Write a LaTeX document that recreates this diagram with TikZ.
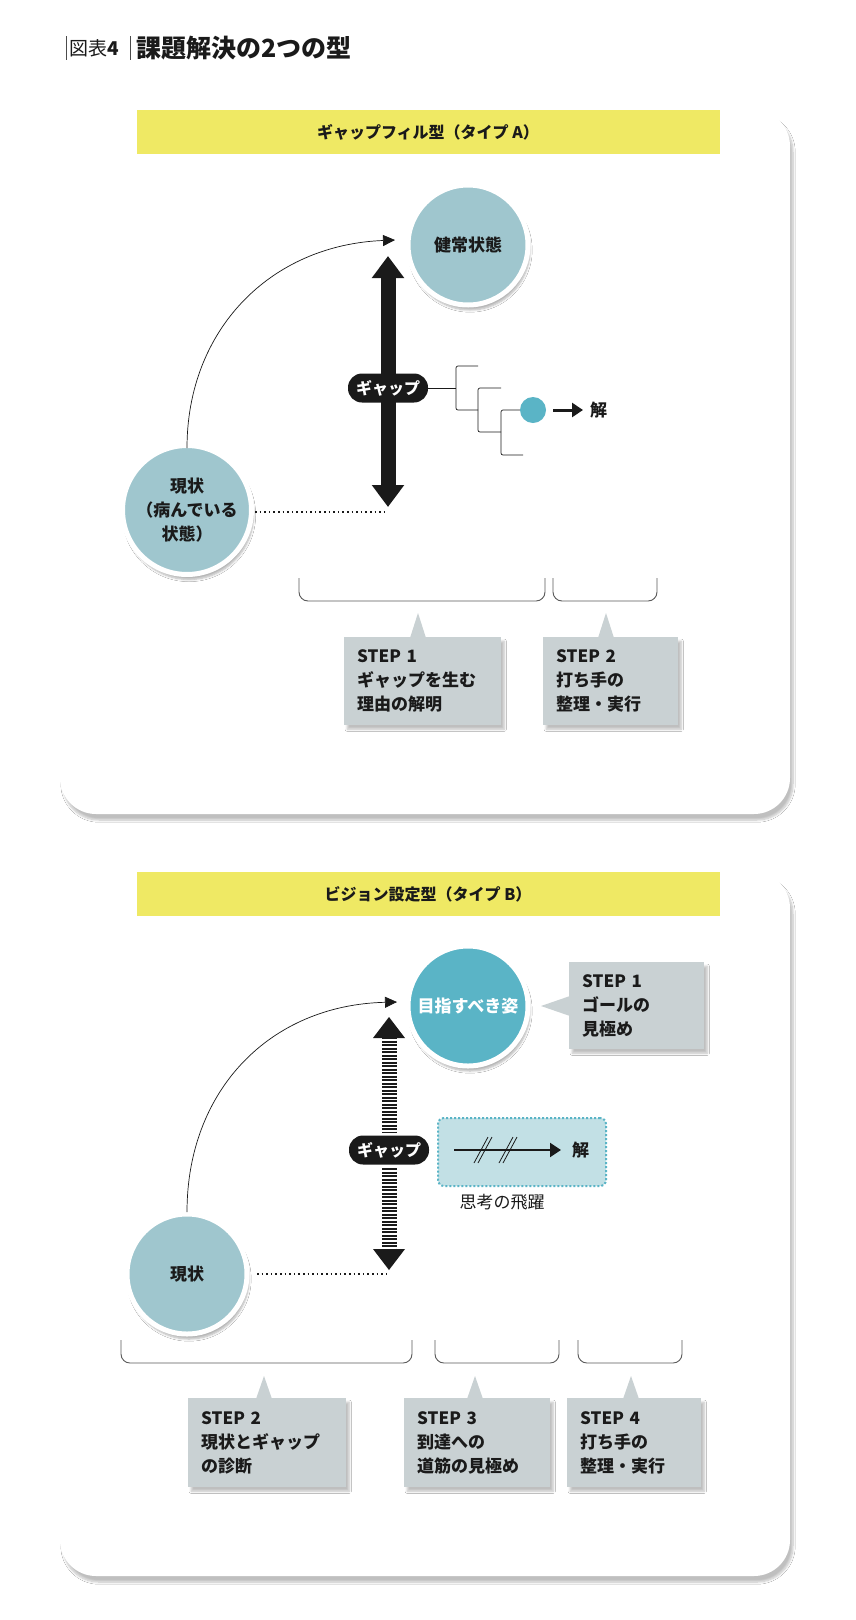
\documentclass[tikz,border=0pt]{standalone}
\usepackage{fontspec}
\setmainfont{Noto Sans CJK JP}
\usetikzlibrary{arrows.meta,shadows.blur,calc}
\definecolor{cLight}{HTML}{9FC6CE}
\definecolor{cTeal}{HTML}{5AB4C6}
\definecolor{cBox}{HTML}{C9D1D3}
\definecolor{cYel}{HTML}{EFE964}
\definecolor{cDot}{HTML}{C2E0E5}
\definecolor{cInk}{HTML}{1A1A1A}
\tikzset{
  panel/.style={fill=white,rounded corners=36pt,blur shadow={shadow xshift=3pt,shadow yshift=-6pt,shadow blur steps=8,shadow opacity=25}},
  ybar/.style={fill=cYel,draw=none},
  ytext/.style={font=\fontsize{16}{18}\selectfont\bfseries,text=cInk},
  circ/.style={circle,minimum size=120pt,draw=white,line width=5pt,font=\fontsize{17}{22}\selectfont\bfseries,text=cInk,align=center,blur shadow={shadow xshift=2pt,shadow yshift=-5pt,shadow blur steps=6,shadow opacity=30}},
  pill/.style={rounded corners=14pt,fill=cInk,text=white,minimum width=80pt,minimum height=29pt,inner sep=0pt,font=\fontsize{16}{18}\selectfont\bfseries},
  stepbox/.style={anchor=north west,fill=cBox,align=left,inner xsep=13pt,inner ysep=0pt,font=\fontsize{17}{24}\selectfont\bfseries,text=cInk,blur shadow={shadow xshift=3pt,shadow yshift=-4pt,shadow blur steps=6,shadow opacity=25}},
  ptr/.style={fill=cBox},
  brk/.style={draw=black!65,line width=0.9pt,rounded corners=9pt},
  thin/.style={draw=cInk,line width=0.7pt},
  dotl/.style={draw=cInk,line width=2pt,dash pattern=on 1.6pt off 3pt},
  bigarr/.style={draw=cInk,line width=15pt,{Triangle[width=31pt,length=22pt]}-{Triangle[width=31pt,length=22pt]}},
  smallarr/.style={-{Triangle[width=11pt,length=12pt]},cInk},
  lbl/.style={font=\fontsize{17}{20}\selectfont\bfseries,text=cInk},
}
\begin{document}
\begin{tikzpicture}[x=1pt,y=-1pt]
\useasboundingbox[fill=white] (0,0) rectangle (856,1620);
% title
\draw[black!70,line width=0.6pt] (66,36) -- (66,60) (130,36) -- (130,60);
\node[anchor=west,inner sep=0pt,font=\fontsize{19}{20}\selectfont,text=cInk] (tnum) at (69,48) {図表\textbf{4}};
\node[anchor=west,inner sep=0pt,font=\fontsize{25}{28}\selectfont\bfseries,text=cInk] (ttl) at (136,48) {課題解決の2つの型};

% ===== Panel A
\path[panel] (60,110) rectangle (790,814);
\fill[ybar] (137,110) rectangle (720,154);
\node[ytext] (ya) at (428,132) {ギャップフィル型（タイプ A）};
\node[circ,fill=cLight] (goalA) at (468,245) {健常状態};
\node[circ,fill=cLight,font=\fontsize{17}{24}\selectfont\bfseries] (curA) at (187,510) {現状\\（病んでいる\\状態）};
\coordinate (cA0) at (187,448);
\coordinate (cA1) at (395,240);
\draw[thin,smallarr] (cA0) .. controls (187,330) and (270,245) .. (cA1);
\coordinate (gAt) at (388,256);
\coordinate (gAb) at (388,507);
\draw[bigarr] (gAt) -- (gAb);
\coordinate (dA) at (255,512);
\draw[dotl] (dA) -- (388,512);
\node[pill] (pA) at (388,388) {ギャップ};
% tree
\coordinate (t1) at (456,388);
\draw[thin] (pA.east) -- (t1);
\draw[thin,rounded corners=2pt] (478,366) -- (456,366) -- (456,410) -- (478,410);
\draw[thin,rounded corners=2pt] (501,388) -- (478,388) -- (478,432) -- (501,432);
\node[circle,fill=cTeal,minimum size=26pt,inner sep=0pt] (dotA) at (533,410) {};
\draw[thin,rounded corners=2pt] (dotA.west) -- (501,410) -- (501,455) -- (523,455);
\node[lbl,anchor=west,inner sep=0pt] (solA) at (590,410) {解};
\coordinate (aA) at (553,410);
\draw[line width=3pt,cInk,-{Triangle[width=14pt,length=11pt]}] (aA) -- (583,410);
% brackets
\draw[brk] (299,578) -- (299,601) -- (545,601) -- (545,578);
\draw[brk] (553,578) -- (553,601) -- (657,601) -- (657,578);
% step boxes
\node[stepbox,text width=131pt,minimum height=88pt] (s1a) at (344,637) {STEP 1\\ギャップを生む\\理由の解明};
\node[stepbox,text width=109pt,minimum height=88pt] (s2a) at (543,637) {STEP 2\\打ち手の\\整理・実行};
\fill[ptr] (410,638) -- (418,613) -- (426,638) -- cycle;
\fill[ptr] (598,638) -- (606,613) -- (614,638) -- cycle;

% ===== Panel B
\path[panel] (60,872) rectangle (790,1576);
\fill[ybar] (137,872) rectangle (720,916);
\node[ytext] (yb) at (428,894) {ビジョン設定型（タイプ B）};
\node[circ,fill=cTeal,text=white] (goalB) at (468,1006) {目指すべき姿};
\node[circ,fill=cLight] (curB) at (187,1274) {現状};
\coordinate (cB0) at (187,1212);
\coordinate (cB1) at (397,1002);
\draw[thin,smallarr] (cB0) .. controls (187,1090) and (270,1005) .. (cB1);
% striped gap arrow
\draw[cInk,line width=15pt,dash pattern=on 2.2pt off 1.3pt] (389,1037) -- (389,1133);
\draw[cInk,line width=15pt,dash pattern=on 2.2pt off 1.3pt] (389,1168) -- (389,1250);
\fill[cInk] (373,1038) -- (389,1017) -- (405,1038) -- cycle;
\fill[cInk] (373,1249) -- (389,1270) -- (405,1249) -- cycle;
\node[pill] (pB) at (389,1150) {ギャップ};
\coordinate (dB) at (257,1274);
\draw[dotl] (dB) -- (390,1274);
% leap box
\node[draw=cTeal,fill=cDot,line width=2pt,dash pattern=on 2pt off 2pt,rounded corners=6pt,minimum width=168pt,minimum height=68pt,anchor=north west] (leap) at (437,1117) {};
\coordinate (lA) at (454,1150);
\draw[line width=2.2pt,cInk,-{Triangle[width=14pt,length=11pt]}] (lA) -- (561,1150);
\foreach \xx in {480,505}{
  \draw[cInk,line width=0.8pt] (\xx-6,1163) -- (\xx+8,1137);
  \draw[cInk,line width=0.8pt] (\xx-2,1163) -- (\xx+12,1137);
}
\node[lbl,anchor=west,inner sep=0pt] (solB) at (572,1150) {解};
\node[font=\fontsize{17}{20}\selectfont,text=cInk] (leapl) at (502,1202) {思考の飛躍};
% step1 B
\node[stepbox,text width=109pt,minimum height=87pt] (s1b) at (569,962) {STEP 1\\ゴールの\\見極め};
\fill[ptr] (570,996) -- (541,1006) -- (570,1016) -- cycle;
% brackets
\draw[brk] (121,1340) -- (121,1363) -- (412,1363) -- (412,1340);
\draw[brk] (435,1340) -- (435,1363) -- (559,1363) -- (559,1340);
\draw[brk] (578,1340) -- (578,1363) -- (682,1363) -- (682,1340);
\node[stepbox,text width=132pt,minimum height=89pt] (s2b) at (188,1398) {STEP 2\\現状とギャップ\\の診断};
\node[stepbox,text width=120pt,minimum height=89pt] (s3b) at (404,1398) {STEP 3\\到達への\\道筋の見極め};
\node[stepbox,text width=108pt,minimum height=89pt] (s4b) at (567,1398) {STEP 4\\打ち手の\\整理・実行};
\fill[ptr] (256,1399) -- (264,1376) -- (272,1399) -- cycle;
\fill[ptr] (467,1399) -- (475,1376) -- (483,1399) -- cycle;
\fill[ptr] (623,1399) -- (631,1376) -- (639,1399) -- cycle;
\end{tikzpicture}
\end{document}
